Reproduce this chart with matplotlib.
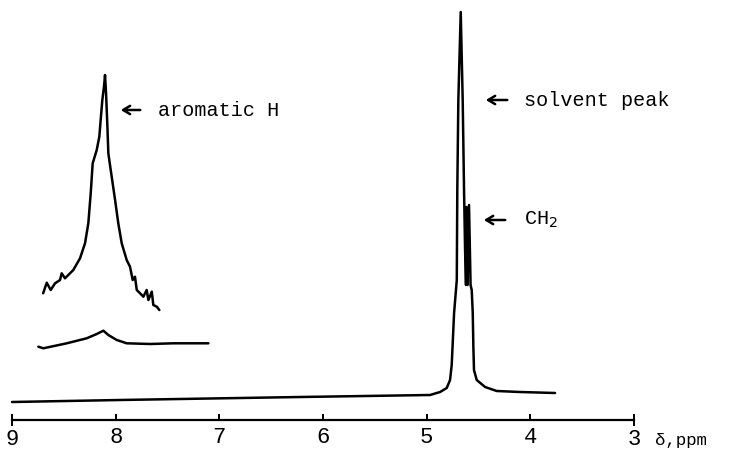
"""1H NMR trace: solvent + CH2 near 4.6 ppm, aromatic H near 8.1 ppm (with expanded inset trace)."""
import matplotlib
matplotlib.use("Agg")
import matplotlib.pyplot as plt
from matplotlib.ticker import FixedLocator, FixedFormatter

plt.rcParams["font.family"] = ["Liberation Mono", "DejaVu Sans Mono"]

# main trace, chemical shift (ppm) vs chart intensity (arbitrary units)
main_ppm = [9.00, 7.96, 6.22, 4.968, 4.871, 4.807, 4.775, 4.759, 4.751, 4.736,
            4.710, 4.705, 4.695, 4.672, 4.653, 4.640, 4.630, 4.621, 4.616, 4.606,
            4.592, 4.577, 4.566, 4.556, 4.550, 4.544, 4.518, 4.437, 4.325, 4.100,
            3.762]
main_int = [-2, 0, 3, 5, 8, 12, 20, 35, 53, 87,
            120, 210, 300, 388, 300, 210, 150, 115, 193, 115,
            195, 115, 110, 87, 53, 30, 20, 13, 9, 8,
            7]

# aromatic region at normal gain (offset trace)
arom_ppm = [8.746, 8.698, 8.472, 8.280, 8.183, 8.119, 8.071, 7.990, 7.894,
            7.669, 7.444, 7.106]
arom_int = [53.3, 51.7, 56.7, 61.7, 66.0, 69.3, 65.0, 60.0, 56.7,
            56.0, 56.7, 56.7]

# aromatic region, expanded gain
exp_ppm = [8.700, 8.665, 8.627, 8.585, 8.537, 8.521, 8.489, 8.457, 8.409, 8.344,
           8.296, 8.264, 8.241, 8.222, 8.183, 8.158, 8.145, 8.129, 8.113, 8.103,
           8.093, 8.080, 8.071, 8.048, 8.006, 7.975, 7.942, 7.894, 7.862, 7.836,
           7.814, 7.797, 7.765, 7.733, 7.701, 7.685, 7.652, 7.637, 7.604, 7.579]
exp_int = [106.7, 117.3, 110.0, 116.7, 120.0, 126.7, 121.7, 125.0, 130.0, 141.7,
           156.7, 176.7, 206.7, 236.7, 250.0, 263.3, 280.0, 300.0, 313.3, 325.0,
           306.7, 273.3, 246.7, 230.0, 200.0, 176.7, 156.7, 140.0, 133.3, 120.0,
           123.3, 110.0, 106.7, 103.3, 110.0, 100.0, 108.3, 95.0, 93.3, 90.0]

ticks_mid = [8, 7, 6, 5, 4]
ticks_end = [9, 3]

fig = plt.figure(figsize=(7.31, 4.5), dpi=100)
ax = fig.add_axes([0, 0, 1, 1])
ax.set_xlim(9.116, 2.065)
ax.set_ylim(-50, 400)

kw = dict(color="black", lw=1.8, solid_joinstyle="round", solid_capstyle="round")
ax.plot(main_ppm, main_int, **kw)
ax.plot(arom_ppm, arom_int, **kw)
ax.plot(exp_ppm, exp_int, **kw)

# ppm scale
for s in ("top", "left", "right"):
    ax.spines[s].set_visible(False)
ax.spines["bottom"].set_position(("data", -20))
ax.spines["bottom"].set_bounds(3, 9)
ax.spines["bottom"].set_linewidth(1.6)
ax.set_yticks([])
ax.xaxis.set_major_locator(FixedLocator(ticks_mid))
ax.xaxis.set_major_formatter(FixedFormatter([str(t) for t in ticks_mid]))
ax.xaxis.set_minor_locator(FixedLocator(ticks_end))
ax.xaxis.set_minor_formatter(FixedFormatter([str(t) for t in ticks_end]))
ax.tick_params(axis="x", which="major", direction="in", length=4, width=1.4,
               pad=5, labelsize=16)
ax.tick_params(axis="x", which="minor", direction="inout", length=9, width=1.4,
               pad=2, labelsize=16)
ax.text(2.797, -41, "δ,ppm", fontsize=12.5, ha="left", va="center")

# peak labels
arr = dict(arrowstyle="->,head_length=0.5,head_width=0.3", lw=1.8, color="black")
ax.annotate("", xy=(7.978, 290), xytext=(7.736, 290), arrowprops=arr)
ax.text(7.592, 290, "aromatic H", fontsize=14.5, ha="left", va="center")
ax.annotate("", xy=(4.457, 300), xytext=(4.196, 300), arrowprops=arr)
ax.text(4.061, 300, "solvent peak", fontsize=14.5, ha="left", va="center")
ax.annotate("", xy=(4.476, 180), xytext=(4.216, 180), arrowprops=arr)
ax.text(4.061, 180, "CH$_2$", fontsize=14.5, ha="left", va="center")

fig.savefig("out.png", dpi=100)
